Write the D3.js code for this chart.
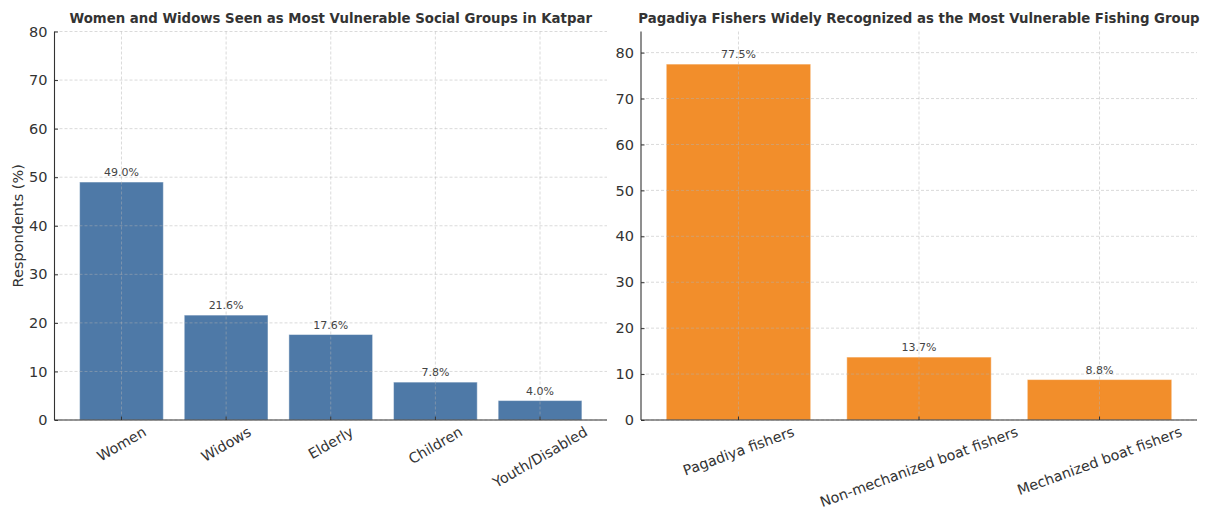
<!DOCTYPE html>
<html>
<head>
<meta charset="utf-8">
<script src="https://cdn.jsdelivr.net/npm/d3@7"></script>
<style>
  html, body { margin: 0; padding: 0; background: #ffffff; }
  svg { display: block; font-family: "DejaVu Sans", sans-serif; }
</style>
</head>
<body>
<svg id="chart" width="1207" height="512"></svg>
<script>
// Survey results: vulnerable social groups (left) and fishing groups (right)
const socialGroups = ["Women", "Widows", "Elderly", "Children", "Youth/Disabled"];
const socialValues = [49.0, 21.6, 17.6, 7.8, 4.0];
const socialTicks = [0, 10, 20, 30, 40, 50, 60, 70, 80];

const fisherGroups = ["Pagadiya fishers", "Non-mechanized boat fishers", "Mechanized boat fishers"];
const fisherValues = [77.5, 13.7, 8.8];
const fisherTicks = [0, 10, 20, 30, 40, 50, 60, 70, 80];

const svg = d3.select("#chart");

const panels = [
  {
    title: "Women and Widows Seen as Most Vulnerable Social Groups in Katpar",
    cats: socialGroups, vals: socialValues, ticks: socialTicks,
    yMax: 80, left: 54.5, right: 607, top: 31.5, bottom: 420,
    color: "#4e79a7", rotate: 30, yLabel: "Respondents (%)"
  },
  {
    title: "Pagadiya Fishers Widely Recognized as the Most Vulnerable Fishing Group",
    cats: fisherGroups, vals: fisherValues, ticks: fisherTicks,
    yMax: 84.6, left: 641, right: 1197, top: 31.5, bottom: 420,
    color: "#f28e2b", rotate: 20, yLabel: null
  }
];

panels.forEach(p => {
  const n = p.cats.length;
  // bars are 0.8 wide at integer positions with 5% margin either side
  const pad = 0.4 + 0.05 * (n - 1 + 0.8);
  const x = d3.scaleLinear().domain([-pad, n - 1 + pad]).range([p.left, p.right]);
  const y = d3.scaleLinear().domain([0, p.yMax]).range([p.bottom, p.top]);
  const barW = x(0.8) - x(0);

  const g = svg.append("g");

  // bars
  g.selectAll("rect.bar").data(p.vals).join("rect")
    .attr("class", "bar")
    .attr("x", (d, i) => x(i) - barW / 2)
    .attr("y", d => y(d))
    .attr("width", barW)
    .attr("height", d => y(0) - y(d))
    .attr("fill", p.color)
    .attr("stroke", "#ffffff")
    .attr("stroke-opacity", 0.45)
    .attr("stroke-width", 1);

  // dashed grid drawn over the bars
  g.selectAll("line.hgrid").data(p.ticks).join("line")
    .attr("x1", p.left).attr("x2", p.right)
    .attr("y1", d => y(d)).attr("y2", d => y(d))
    .attr("stroke", "#b0b0b0").attr("stroke-opacity", 0.6)
    .attr("stroke-width", 0.8).attr("stroke-dasharray", "3,2");
  g.selectAll("line.vgrid").data(p.cats).join("line")
    .attr("x1", (d, i) => x(i)).attr("x2", (d, i) => x(i))
    .attr("y1", p.top).attr("y2", p.bottom)
    .attr("stroke", "#b0b0b0").attr("stroke-opacity", 0.6)
    .attr("stroke-width", 0.8).attr("stroke-dasharray", "3,2");

  // y axis
  const yAxis = d3.axisLeft(y).tickValues(p.ticks).tickSize(-3.5).tickPadding(7)
    .tickFormat(d3.format("d"));
  const ya = g.append("g").attr("transform", `translate(${p.left},0)`).call(yAxis);
  ya.select(".domain").attr("stroke", "#333").attr("stroke-width", 1.1)
    .attr("d", `M0,${p.top}V${p.bottom}`);
  ya.selectAll(".tick line").attr("stroke", "#333");
  ya.selectAll(".tick text").attr("font-size", 14.5).attr("fill", "#333")
    .attr("font-family", "DejaVu Sans");

  // x axis
  const xa = g.append("g").attr("transform", `translate(0,${p.bottom})`);
  xa.append("line").attr("x1", p.left).attr("x2", p.right)
    .attr("stroke", "#333").attr("stroke-width", 1.1);
  xa.selectAll("line.tk").data(p.cats).join("line").attr("class", "tk")
    .attr("x1", (d, i) => x(i)).attr("x2", (d, i) => x(i))
    .attr("y1", 0).attr("y2", -3.5).attr("stroke", "#333");

  // rotated category labels, bounding box centred under each tick
  const th = p.rotate * Math.PI / 180;
  p.cats.forEach((c, i) => {
    const lg = xa.append("g");
    const t = lg.append("text").text(c)
      .attr("font-size", 14.3).attr("fill", "#333")
      .attr("text-anchor", "middle").attr("dominant-baseline", "central");
    const L = t.node().getComputedTextLength();
    const h = 15;
    const boxH = L * Math.sin(th) + h * Math.cos(th);
    lg.attr("transform", `translate(${x(i)},${4 + boxH / 2}) rotate(${-p.rotate})`);
  });

  // value labels
  g.selectAll("text.val").data(p.vals).join("text")
    .attr("class", "val")
    .attr("x", (d, i) => x(i))
    .attr("y", d => y(d) - 6)
    .attr("text-anchor", "middle")
    .attr("font-size", 11).attr("fill", "#444")
    .text(d => d.toFixed(1) + "%");

  // title
  svg.append("text")
    .attr("x", (p.left + p.right) / 2).attr("y", 23)
    .attr("text-anchor", "middle")
    .attr("font-size", 13.3).attr("font-weight", "bold").attr("fill", "#333")
    .text(p.title);

  if (p.yLabel) {
    svg.append("text")
      .attr("transform", `translate(23,${(p.top + p.bottom) / 2}) rotate(-90)`)
      .attr("text-anchor", "middle")
      .attr("font-size", 14.5).attr("fill", "#333")
      .text(p.yLabel);
  }
});
</script>
</body>
</html>
